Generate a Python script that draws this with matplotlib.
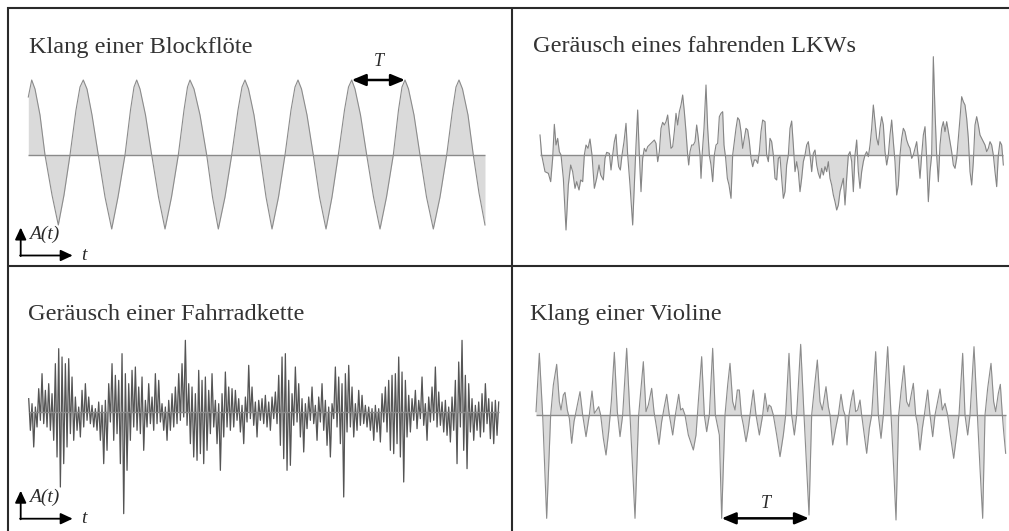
import numpy as np
import matplotlib
matplotlib.use("Agg")
import matplotlib.pyplot as plt

W, H = 1009, 531

# Blockflöte: Stützpunkte der Schwingung (Zeit, Auslenkung)
flute_t = [28.3, 31.7, 35.0, 40.0, 45.0, 52.0, 58.3, 64.0, 70.0, 76.0, 80.0,
           83.3, 87.0, 92.0, 98.3, 105.0, 111.7, 118.0, 125.0, 130.5, 134.0,
           136.7, 140.0, 145.5, 151.7, 158.5, 165.0, 171.5, 178.3, 184.0, 187.5,
           190.0, 194.0, 200.0, 206.7, 212.5, 218.3, 225.0, 231.7, 238.0, 242.0,
           245.0, 248.5, 254.0, 260.0, 266.0, 272.0, 278.5, 285.0, 291.0, 295.0,
           298.0, 301.5, 307.0, 313.3, 319.5, 326.0, 332.0, 338.3, 344.5, 348.5,
           351.7, 355.0, 360.5, 366.7, 373.5, 380.0, 386.5, 393.3, 398.5, 402.0,
           405.0, 408.5, 414.0, 420.0, 426.5, 433.3, 440.0, 446.7, 452.5, 456.0,
           459.0, 462.5, 468.0, 473.3, 479.0, 485.0]
flute_a = [58, 75, 66, 40, 0, -40, -70, -40, 0, 45, 68,
           75, 66, 40, 0, -42, -74, -42, 0, 45, 68,
           75, 66, 40, 0, -42, -74, -42, 0, 45, 68,
           75, 66, 40, 0, -42, -74, -42, 0, 45, 68,
           75, 66, 40, 0, -42, -74, -42, 0, 45, 68,
           75, 66, 40, 0, -42, -74, -42, 0, 45, 68,
           75, 66, 40, 0, -42, -74, -42, 0, 45, 68,
           75, 66, 40, 0, -42, -74, -42, 0, 45, 68,
           75, 66, 40, 0, -38, -70]

# LKW
lkw_t = [30, 35, 45, 55, 62, 68, 73, 78, 83, 88, 93, 100, 108, 115, 122, 128, 135, 140,
         147, 152, 158, 163, 168, 174, 180, 186, 193, 200, 207, 212, 220, 225, 230, 238,
         243, 248, 253, 258, 262, 266, 271, 276, 282, 288, 293, 300, 308, 313, 318, 323,
         328, 333, 338, 343, 348, 353, 358, 363, 368, 373, 378, 383, 388, 393, 398, 403,
         408, 413, 418, 423, 428, 433, 438, 443, 448, 453, 458, 463, 468, 473, 476, 480,
         485, 490, 495, 500, 505, 510, 513, 517, 522, 528, 533, 538, 543, 548, 553, 558,
         563, 568, 573, 578, 582, 587, 592, 597, 603, 608, 613, 618, 623, 628, 633, 638,
         643, 648, 653, 658, 663, 668, 673, 678, 683, 688, 693, 698,
         705, 710, 715, 720, 725, 730, 735, 740, 745, 750, 755, 760, 765, 770, 775, 780,
         785, 790, 795, 800, 805, 810, 815, 820, 825, 830, 835, 840, 845, 850, 855, 860,
         865, 870, 875, 880, 885, 890, 895, 900, 905, 910, 915, 920, 925, 930, 935, 940,
         945, 950, 955, 960, 965, 970, 975, 980, 985, 990, 995, 1000, 1005, 1010, 1015,
         1020, 1025, 1030, 1035, 1040, 1045, 1050, 1055, 1060, 1065, 1070, 1075, 1080,
         1085, 1090, 1095, 1100, 1105, 1110, 1115, 1120, 1125, 1130, 1135, 1140, 1145,
         1150, 1155, 1160, 1165, 1170, 1175, 1180, 1185, 1190, 1195, 1200, 1205, 1210,
         1215, 1220, 1225, 1230, 1235, 1240, 1245, 1250, 1255, 1260, 1265, 1270, 1275,
         1280, 1285, 1290, 1295, 1300, 1305, 1310, 1315, 1320, 1325, 1330, 1335, 1340,
         1345, 1350, 1355, 1360, 1365, 1370, 1375, 1380, 1385, 1390, 1395, 1400, 1405,
         1410, 1415, 1420]
lkw_a = [60, 0, -50, -55, -80, -10, 92, 30, 50, 10, 0, -70, -225, -90, -30, -50, -100, -80,
         -105, -75, -80, 0, 30, 20, 48, 0, -100, -70, -30, -60, -75, -10, 8, 5,
         -45, 0, 40, 62, 0, -35, -45, 0, 40, 95, 0, -90, -210, -90, 30, 135,
         0, -110, -10, 20, 10, 25, 30, 35, 40, 45, 35, -20, 10, 80, 98, 90,
         100, 120, 68, 20, 25, 70, 125, 90, 130, 150, 180, 130, 70, 0, -30, 10,
         30, 30, 40, 90, 50, 0, -70, 10, 80, 210, 80, 0, -30, -80, 0, 30,
         35, 115, 125, 130, 30, -10, -70, -90, -130, 0, 40, 80, 112, 105, 70, 20,
         50, 80, 75, 40, -10, -35, -15, -15, -25, 10, 70, 105,
         100, 0, -20, 50, 40, 0, -70, -75, -10, -5, -70, -130, -110, -30, 0, 80,
         102, 30, -50, -20, -50, -110, -70, -20, 0, 30, 40, 0, -50, 5, 15, -30,
         -55, -70, -40, -60, -35, -50, -20, -70, -90, -120, -140, -165, -150, -110, -90, -70,
         -150, -70, 0, 10, -20, -110, 0, 45, -50, -100, -50, -20, 0, 10, -5,
         30, 80, 150, 100, 50, 30, 80, 115, 90, 10, -30, 0, 60,
         105, 40, -20, -120, -90, 0, 50, 80, 70, 45, 30, 20, -10,
         0, 20, 40, -10, -70, 0, 60, 85, -10, -140, -50, 0, 295,
         130, 0, -80, 30, 80, 100, 70, 100, 70, 40, 10, -30, -40,
         -10, 50, 110, 175, 160, 150, 110, 50, -50, -90, -20, 90, 115,
         90, 60, 50, 40, 30, 10, 20, 40, 30, 0, -50, -95, 0,
         40, 30, -30]

# Fahrradkette: gleichmäßig abgetastet
kette_a = [40, -55, 25, -105, 15, -45, 70, -25, 115, -35,
           65, -45, 85, -55, 55, -85, 145, -135, 190, -225,
           165, -155, 145, -105, 160, -65, 105, -85, 45, -55,
           15, -75, 65, -45, 85, -25, 45, -35, 20, -45,
           10, -55, 30, -85, 20, -155, 35, -115, 85, -30,
           145, -85, 110, -65, 95, -155, 175, -305, 115, -175,
           85, -85, 125, -45, 135, -55, 75, -65, 105, -115,
           35, -45, 85, -35, 45, -55, 115, -35, 95, -30,
           25, -55, 15, -85, 35, -55, 55, -45, 75, -35,
           115, -25, 145, -15, 215, -40,
           85, -95, 75, -135, 55, -145, 125, -125, 95, -155,
           105, -115, 65, -65, 115, -45, 35, -95, 25, -175,
           55, -75, 120, -45, 75, -55, 70, -45, 65, -25,
           40, -60, 20, -95, 45, -30, 140, -20, 75, -40,
           30, -75, 35, -25, 40, -35, 50, -45, 30, -55,
           45, -20, 60, -35, 110, -100, 165, -140, 175, -175,
           95, -160, 55, -40, 135, -30, 85, -75, 40, -120,
           25, -50, 45, -25, 75, -35, 20, -85, 45, -30,
           85, -55, 35, -100, 15, -135, 25, -20, 135, -45,
           105, -95, 85, -255, 115,
           -60, 140, -45, 75, -75, 25, -55, 65, -40, 50,
           -35, 20, -45, 15, -55, 10, -85, 20, -60, 10,
           -90, 55, -30, 75, -60, 95, -115, 110, -125, 115,
           -95, 165, -135, 120, -210, 95, -75, 50, -60, 40,
           -25, 65, -50, 35, -20, 105, -40, 25, -85, 45,
           -30, 75, -25, 135, -45, 60, -40, 30, -60, 35,
           -70, 15, -90, 45, -55, 95, -155, 150, -45, 215,
           -115, 110, -170, 85, -60, 40, -85, 20, -55, 30,
           -75, 55, -60, 85, -35, 40, -80, 30, -95, 35,
           -70, 30]
kette_t = np.arange(len(kette_a))

# Violine
vio_t = [18, 28, 38, 50, 62, 70, 80, 88, 93, 100, 105, 112, 118, 125, 132, 140, 150, 158,
         168, 178, 186, 193, 200, 206, 212, 220, 228, 236, 244, 253, 262, 270, 278, 290,
         300, 315, 326, 333, 340, 348, 355, 365, 372, 380, 387, 395, 402, 410, 418, 428,
         436, 446, 452, 458, 465, 475, 490, 498, 505, 515, 523, 530, 538, 548, 556, 568,
         575, 585, 593, 600, 608, 615, 622, 628, 634, 640, 648, 655, 662, 670, 678, 688,
         698, 705, 713, 717, 723, 730, 740, 750, 760, 767, 777, 785, 793, 800, 812, 822,
         830, 837, 845, 853, 862, 870, 877, 888, 895, 900, 908, 917, 925, 933, 940, 945,
         951, 957, 963, 970, 977, 983, 990, 995, 1003, 1010, 1018, 1025, 1037, 1045, 1053,
         1060, 1073, 1083, 1091, 1098, 1106, 1113, 1122, 1130, 1137, 1150, 1157, 1163,
         1170, 1177, 1183, 1193, 1200, 1208, 1215, 1230, 1237, 1245, 1253, 1261, 1271,
         1280, 1287, 1298, 1305, 1313, 1320, 1332, 1342, 1350, 1358, 1365, 1373, 1383,
         1391, 1397, 1405, 1411, 1417, 1421, 1427]
vio_a = [10, 185, 0, -310, 0, 90, 152, 40, 15, 60, 68, 15, -10, -85, -20, 20, 70, 0,
         -65, 0, 72, 5, 15, 25, 0, -70, -120, -50, 40, 188, 10, -65, 0, 200,
         0, -310, 0, 80, 160, 10, 30, 80, 10, -40, -88, -20, 20, 62, 0, -60,
         0, 62, 15, 20, 0, -60, -105, -60, 40, 175, 0, -50, 0, 200, 0, -60,
         -310, 0, 90, 155, 40, 15, 75, 75, 0, -30, -80, -40, 15, 75, 0, -60,
         0, 65, 10, 30, 25, 0, -60, -125, -60, 0, 185, 0, -60, 0, 212, 0,
         -160, -300, 0, 80, 165, 40, 15, 85, 25, 0, -90, -40, 0, 62, 15, 0,
         -90, 0, 40, 75, 10, 15, 45, 0, -60, -115, -40, 0, 190, 0, -70,
         0, 205, 0, -160, -315, 0, 70, 148, 40, 25, 95, 0, -30,
         -105, -40, 0, 75, 0, -65, 0, 78, 15, 35, 0, -60, -130,
         -60, 0, 185, 0, -60, 0, 205, 0, -160, -310, 0, 80, 155,
         40, 10, 65, 92, 0, -50, -115]

titel = ["Klang einer Blockflöte", "Geräusch eines fahrenden LKWs",
         "Geräusch einer Fahrradkette", "Klang einer Violine"]

LINE = "#8c8c8c"
FILL = "#dadada"
INK = "#2a2a2a"
SERIF = "Liberation Serif"

fig = plt.figure(figsize=(W / 100, H / 100), dpi=100)


def panel(x0, y0, x1, y1, ox, oy, sx, sy):
    # Achse über ein Feld legen (Pixel), Nulllinie bei oy, Zeit-Null bei ox
    ax = fig.add_axes([x0 / W, 1 - y1 / H, (x1 - x0) / W, (y1 - y0) / H])
    ax.set_xlim((x0 - ox) * sx, (x1 - ox) * sx)
    ax.set_ylim((oy - y1) * sy, (oy - y0) * sy)
    ax.axis("off")
    return ax


def waveform(ax, t, a, line=LINE, lw=0.8, fill=FILL):
    t = np.asarray(t, dtype=float)
    a = np.asarray(a, dtype=float)
    ax.fill_between(t, a, 0, color=fill, lw=0)
    ax.plot(t, a, color=line, lw=lw)
    ax.hlines(0, t[0], t[-1], color="#8a8a8a", lw=1.0)
    return t, a


def periode(ax, ta, tb, y, dy):
    ax.annotate("", xy=(tb, y), xytext=(ta, y),
                arrowprops=dict(arrowstyle="<|-|>,head_length=0.6,head_width=0.25",
                                color="black", lw=1.8, mutation_scale=14,
                                shrinkA=0, shrinkB=0))
    ax.annotate("T", xy=((ta + tb) / 2, y), xytext=(0, dy), textcoords="offset points",
                ha="center", va="center", family=SERIF, style="italic",
                fontsize=13, color=INK)


ax_fl = panel(8, 8, 512, 266, 0, 155, 1, 1)
t, a = waveform(ax_fl, flute_t, flute_a)
spitzen = np.flatnonzero(a == a.max())
periode(ax_fl, t[spitzen[6]], t[spitzen[7]], a[spitzen[6]], 13)

ax_lkw = panel(512, 8, W, 266, 530, 155, 3, 3)
waveform(ax_lkw, lkw_t, lkw_a, line="#858585")

ax_ke = panel(8, 266, 512, H, 28.7, 412, 0.6, 3)
waveform(ax_ke, kette_t, kette_a, line="#555555", lw=0.9, fill="#c4c4c4")

ax_vi = panel(512, 266, W, H, 530, 415, 3, 3)
t, a = waveform(ax_vi, vio_t, vio_a)
taeler = np.flatnonzero(a <= -300)
periode(ax_vi, t[taeler[2]], t[taeler[3]], a[taeler[2]], 11)

# Rahmen, Überschriften und Achsensymbole in Pixelkoordinaten
over = fig.add_axes([0, 0, 1, 1])
over.set_xlim(0, W)
over.set_ylim(H, 0)
over.axis("off")

for xs, ys in [([8, 8], [7, H]), ([7, W], [7.5, 7.5]), ([512, 512], [7, H]),
               ([8, W], [266, 266])]:
    over.plot(xs, ys, color=INK, lw=1.5, solid_capstyle="butt")

for (x, y), s in zip([(29, 53), (533, 52), (28, 320), (530, 320)], titel):
    over.text(x, y, s, family=SERIF, fontsize=17.6, color="#333333", va="baseline")


def achsen(x, y):
    pfeil = dict(arrowstyle="-|>,head_length=0.6,head_width=0.28", color="black",
                 lw=1.3, mutation_scale=12, shrinkA=0, shrinkB=0)
    over.annotate("", xy=(x, y - 28), xytext=(x, y + 0.6), arrowprops=pfeil)
    over.annotate("", xy=(x + 52, y), xytext=(x - 0.6, y), arrowprops=pfeil)
    over.text(x + 8, y - 21, "A(t)", family=SERIF, style="italic", fontsize=14,
              color=INK, va="center")
    over.text(x + 60, y, "t", family=SERIF, style="italic", fontsize=14,
              color=INK, va="center")


achsen(20.7, 255.5)
achsen(20.7, 518.7)

fig.savefig("out.png", dpi=100)
